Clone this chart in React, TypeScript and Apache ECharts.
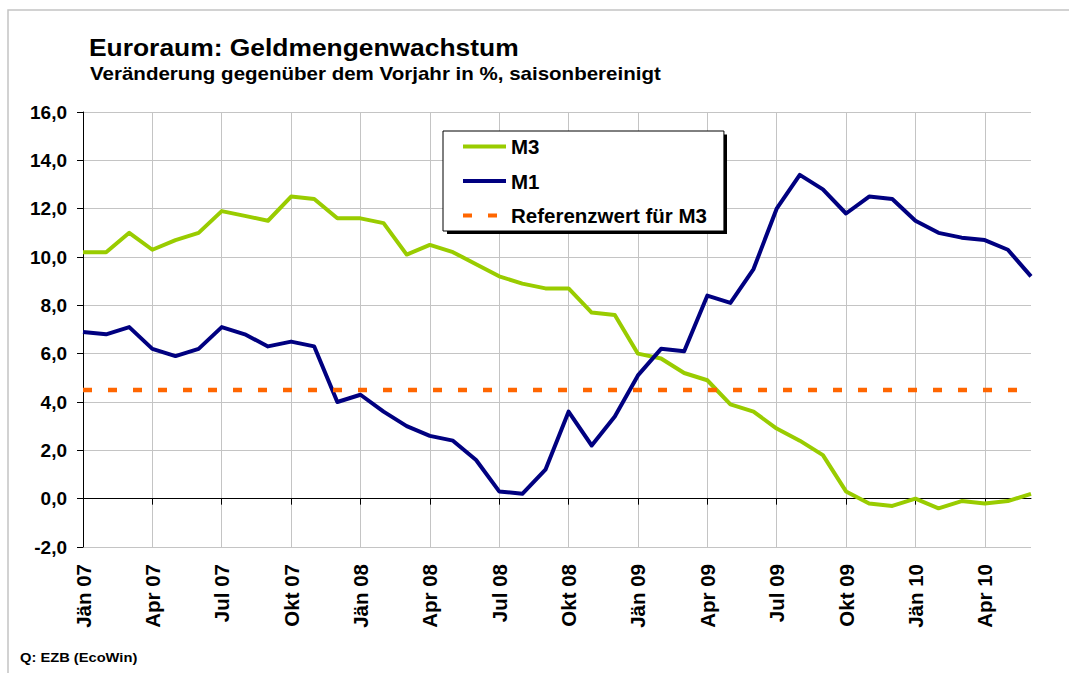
import React, { useEffect, useRef } from "react";
import * as echarts from "echarts";

const categories = [
  "Jän 07", "Feb 07", "Mär 07", "Apr 07", "Mai 07", "Jun 07", "Jul 07", "Aug 07", "Sep 07", "Okt 07", "Nov 07", "Dez 07",
  "Jän 08", "Feb 08", "Mär 08", "Apr 08", "Mai 08", "Jun 08", "Jul 08", "Aug 08", "Sep 08", "Okt 08", "Nov 08", "Dez 08",
  "Jän 09", "Feb 09", "Mär 09", "Apr 09", "Mai 09", "Jun 09", "Jul 09", "Aug 09", "Sep 09", "Okt 09", "Nov 09", "Dez 09",
  "Jän 10", "Feb 10", "Mär 10", "Apr 10", "Mai 10", "Jun 10",
];

const m3 = [
  10.2, 10.2, 11.0, 10.3, 10.7, 11.0, 11.9, 11.7, 11.5, 12.5, 12.4, 11.6,
  11.6, 11.4, 10.1, 10.5, 10.2, 9.7, 9.2, 8.9, 8.7, 8.7, 7.7, 7.6,
  6.0, 5.8, 5.2, 4.9, 3.9, 3.6, 2.9, 2.4, 1.8, 0.3, -0.2, -0.3,
  0.0, -0.4, -0.1, -0.2, -0.1, 0.2,
];

const m1 = [
  6.9, 6.8, 7.1, 6.2, 5.9, 6.2, 7.1, 6.8, 6.3, 6.5, 6.3, 4.0,
  4.3, 3.6, 3.0, 2.6, 2.4, 1.6, 0.3, 0.2, 1.2, 3.6, 2.2, 3.4,
  5.1, 6.2, 6.1, 8.4, 8.1, 9.5, 12.0, 13.4, 12.8, 11.8, 12.5, 12.4,
  11.5, 11.0, 10.8, 10.7, 10.3, 9.2,
];

const referenceValue = 4.5;
const referenceSeries = categories.map(() => referenceValue);

const yMin = -2;
const yMax = 16;
const yInterval = 2;

const FONT = "'Liberation Sans', Arial, Helvetica, sans-serif";

export default function App() {
  const ref = useRef<HTMLDivElement>(null);

  useEffect(() => {
    if (!ref.current) return;
    const chart = echarts.init(ref.current, undefined, { renderer: "svg" });
    chart.setOption({
      animation: false,
      backgroundColor: "#ffffff",
      graphic: [
        {
          type: "rect",
          shape: { x: 8, y: 10, width: 1080, height: 700 },
          style: { fill: "none", stroke: "#c4c4c4", lineWidth: 1.5 },
          silent: true,
          z: 0,
        },
        {
          type: "text",
          x: 89,
          y: 47,
          scaleX: 1.1,
          style: {
            text: "Euroraum: Geldmengenwachstum",
            fontFamily: FONT,
            fontWeight: "bold",
            fontSize: 24,
            fill: "#000",
            verticalAlign: "middle",
          },
          silent: true,
        },
        {
          type: "text",
          x: 90,
          y: 73.5,
          scaleX: 1.14,
          style: {
            text: "Veränderung gegenüber dem Vorjahr in %, saisonbereinigt",
            fontFamily: FONT,
            fontWeight: "bold",
            fontSize: 18,
            fill: "#000",
            verticalAlign: "middle",
          },
          silent: true,
        },
        {
          type: "rect",
          shape: { x: 447, y: 134.5, width: 280, height: 99.5 },
          style: { fill: "#000" },
          silent: true,
          z: 3,
        },
        {
          type: "text",
          x: 20,
          y: 657,
          scaleX: 1.13,
          style: {
            text: "Q: EZB (EcoWin)",
            fontFamily: FONT,
            fontWeight: "bold",
            fontSize: 13,
            fill: "#000",
            verticalAlign: "middle",
          },
          silent: true,
        },
      ],
      legend: {
        orient: "vertical",
        left: 443,
        top: 131,
        z: 10,
        selectedMode: false,
        itemWidth: 43,
        itemHeight: 20,
        itemGap: 13.5,
        padding: [5, 17, 5, 18],
        backgroundColor: "#ffffff",
        borderColor: "#000",
        borderWidth: 1,
        itemStyle: { opacity: 0 },
        lineStyle: { width: 4 },
        textStyle: { fontFamily: FONT, fontWeight: "bold", fontSize: 20.5, lineHeight: 20, color: "#000" },
        data: ["M3", "M1", "Referenzwert für M3"],
      },
      grid: { left: 83, right: 38, top: 112, bottom: 126, containLabel: false },
      xAxis: [
        {
          type: "category",
          data: categories,
          boundaryGap: false,
          position: "bottom",
          axisLine: { show: false, onZero: false },
          axisTick: { show: false },
          axisLabel: {
            interval: 2,
            rotate: 90,
            margin: 17,
            fontFamily: FONT,
            fontWeight: "bold",
            fontSize: 20.5,
            color: "#000",
          },
          splitLine: { show: true, interval: 2, lineStyle: { color: "#c4c4c4", width: 1 } },
        },
        {
          type: "category",
          data: categories,
          boundaryGap: false,
          position: "bottom",
          axisLine: { show: true, onZero: true, lineStyle: { color: "#000", width: 1 } },
          axisTick: { show: true, interval: 2, length: 6, lineStyle: { color: "#000", width: 1 } },
          axisLabel: { show: false },
          splitLine: { show: false },
        },
      ],
      yAxis: {
        type: "value",
        min: yMin,
        max: yMax,
        interval: yInterval,
        axisLine: { show: true, lineStyle: { color: "#000", width: 1 } },
        axisTick: { show: true, length: 6, lineStyle: { color: "#000", width: 1 } },
        axisLabel: {
          margin: 16,
          fontFamily: FONT,
          fontWeight: "bold",
          fontSize: 19,
          color: "#000",
          formatter: (v: number) => v.toFixed(1).replace(".", ","),
        },
        splitLine: { show: true, lineStyle: { color: "#c4c4c4", width: 1 } },
      },
      series: [
        {
          name: "M3",
          type: "line",
          data: m3,
          showSymbol: false,
          symbol: "none",
          lineStyle: { color: "#99cc00", width: 4, join: "round" },
          itemStyle: { color: "#99cc00" },
          z: 3,
        },
        {
          name: "M1",
          type: "line",
          data: m1,
          showSymbol: false,
          symbol: "none",
          lineStyle: { color: "#000080", width: 4, join: "round" },
          itemStyle: { color: "#000080" },
          z: 4,
        },
        {
          name: "Referenzwert für M3",
          type: "line",
          data: referenceSeries,
          showSymbol: false,
          symbol: "none",
          lineStyle: { color: "#ff6600", width: 4.5, type: [9, 16], cap: "butt" },
          itemStyle: { color: "#ff6600" },
          z: 5,
        },
      ],
    });
    return () => chart.dispose();
  }, []);

  return (
    <div
      ref={ref}
      style={{ position: "fixed", left: 0, top: 0, width: 1069, height: 673 }}
    />
  );
}
